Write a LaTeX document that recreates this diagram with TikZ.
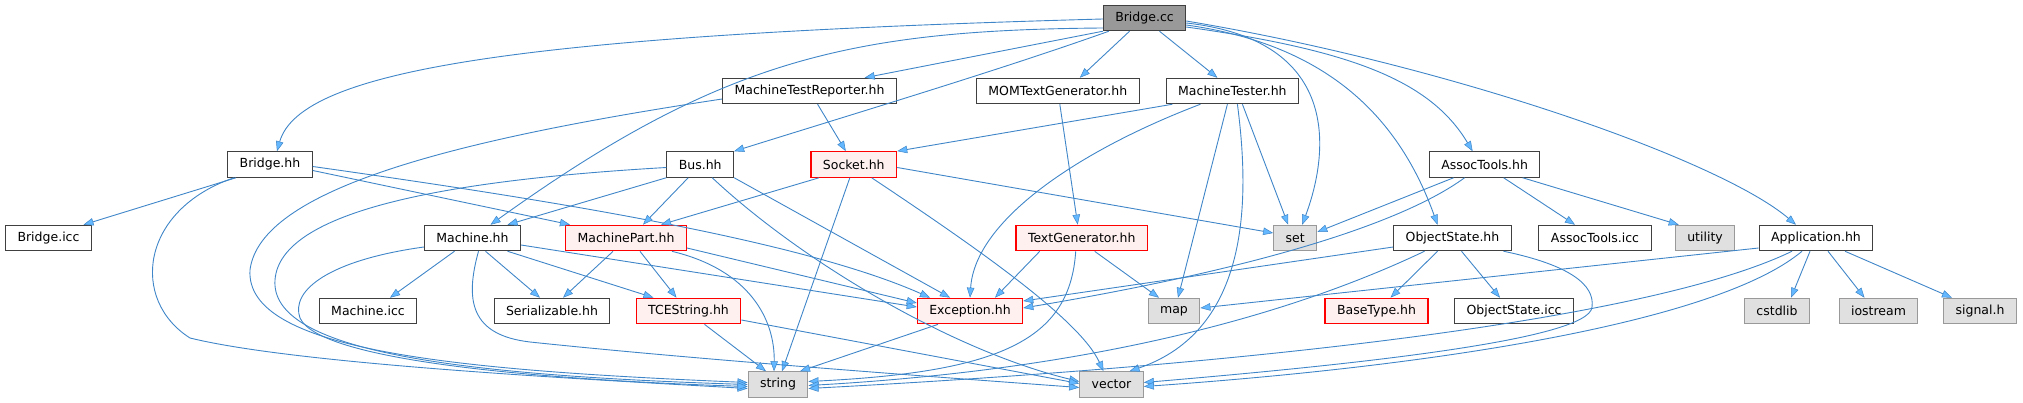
\documentclass[tikz,border=0pt]{standalone}
\usepackage{fontspec}
\setmainfont{DejaVu Sans}
\usetikzlibrary{arrows.meta}
\definecolor{edgeblue}{HTML}{63B8FF}
\definecolor{edgeline}{HTML}{3F86C8}
\definecolor{srcgray}{HTML}{999999}
\definecolor{sysfill}{HTML}{E0E0E0}
\definecolor{sysline}{HTML}{999999}
\definecolor{redfill}{HTML}{FFF0F0}
\definecolor{boxline}{HTML}{404040}

\begin{document}
\begin{tikzpicture}[
    x=1pt, y=-1pt,
    hdr/.style={rectangle, draw=boxline, fill=white, line width=1pt, minimum height=25.5pt, inner xsep=12pt, inner ysep=0pt, font=\fontsize{12.5}{15}\selectfont},
    srcf/.style={hdr, fill=srcgray},
    redhdr/.style={hdr, draw=red, fill=redfill, line width=1.2pt},
    syshdr/.style={hdr, draw=sysline, fill=sysfill},
    incl/.style={-{Triangle[length=10pt, width=7.5pt, fill=edgeblue, line width=0.5pt]}, draw=edgeline, line width=0.9pt}
]
\useasboundingbox (0,0) rectangle (2023,403);

\node[srcf] (cc) at (1144.5,18) {Bridge.cc};
\node[hdr] (mtr) at (809.6,91) {MachineTestReporter.hh};
\node[hdr] (momtg) at (1057.8,91) {MOMTextGenerator.hh};
\node[hdr] (mt) at (1232.4,91) {MachineTester.hh};
\node[hdr] (bh) at (270,164.5) {Bridge.hh};
\node[hdr] (bus) at (700.2,164.5) {Bus.hh};
\node[redhdr] (sock) at (853.8,164.5) {Socket.hh};
\node[hdr] (ath) at (1484.6,164.5) {AssocTools.hh};
\node[hdr] (bicc) at (48.5,238) {Bridge.icc};
\node[hdr] (mh) at (472.5,238) {Machine.hh};
\node[redhdr] (mp) at (626,238) {MachinePart.hh};
\node[redhdr] (tg) at (1081.7,238) {TextGenerator.hh};
\node[syshdr] (set) at (1295.2,238) {set};
\node[hdr] (osh) at (1452.5,238) {ObjectState.hh};
\node[hdr] (aticc) at (1595,238) {AssocTools.icc};
\node[syshdr] (util) at (1705,238) {utility};
\node[hdr] (app) at (1816,238) {Application.hh};
\node[hdr] (micc) at (368,311) {Machine.icc};
\node[hdr] (ser) at (552,311) {Serializable.hh};
\node[redhdr] (tce) at (688.5,311) {TCEString.hh};
\node[redhdr] (exc) at (970,311) {Exception.hh};
\node[syshdr] (map) at (1174,311) {map};
\node[redhdr] (bt) at (1376.5,311) {BaseType.hh};
\node[hdr] (osicc) at (1514,311) {ObjectState.icc};
\node[syshdr] (cstd) at (1777,311) {cstdlib};
\node[syshdr] (ios) at (1878.5,311) {iostream};
\node[syshdr] (sig) at (1980,311) {signal.h};
\node[syshdr] (str) at (778,384.5) {string};
\node[syshdr] (vec) at (1111.5,384.5) {vector};

\draw[incl] ([yshift=-1pt]cc.west) .. controls (520,35) and (300,70) .. ([xshift=7pt]bh.north);
\draw[incl] ([yshift=-10pt]cc.west) .. controls (850,30) and (720,60) .. ([xshift=18pt]mh.north);
\draw[incl] (cc.south west) -- ([xshift=55pt]mtr.north);
\draw[incl] ([xshift=6pt]cc.south west) .. controls (1000,70) and (850,115) .. (bus.north east);
\draw[incl] ([xshift=-15pt]cc.south) -- ([xshift=22pt]momtg.north);
\draw[incl] ([xshift=15pt]cc.south) -- ([xshift=-15pt]mt.north);
\draw[incl] ([yshift=-5pt]cc.east) .. controls (1340,40) and (1330,150) .. ([xshift=7pt]set.north);
\draw[incl] ([yshift=-7pt]cc.east) .. controls (1330,45) and (1400,120) .. ([xshift=-15pt]osh.north);
\draw[incl] ([yshift=-9pt]cc.east) .. controls (1350,50) and (1430,80) .. ([xshift=-12pt]ath.north);
\draw[incl] ([yshift=-3pt]cc.east) .. controls (1450,65) and (1720,160) .. ([xshift=-20pt]app.north);

\draw[incl] ([xshift=8pt]mtr.south) -- ([xshift=-8pt]sock.north);
\draw[incl] ([yshift=-8pt]mtr.west) .. controls (450,140) and (260,190) .. (250,270) .. controls (245,350) and (450,370) .. ([yshift=2pt]str.west);
\draw[incl] ([xshift=2pt]momtg.south) -- ([xshift=-4pt]tg.north);
\draw[incl] ([xshift=-60pt]mt.south) -- (sock.north east);
\draw[incl] ([xshift=-32pt]mt.south) .. controls (1080,150) and (975,220) .. (exc.north);
\draw[incl] ([xshift=-5pt]mt.south) -- ([xshift=4pt]map.north);
\draw[incl] ([xshift=5pt]mt.south) .. controls (1250,200) and (1250,330) .. ([xshift=18pt]vec.north);
\draw[incl] ([xshift=10pt]mt.south) -- ([xshift=-7pt]set.north);

\draw[incl] ([xshift=-34pt]bh.south) -- ([xshift=35pt]bicc.north);
\draw[incl] ([yshift=-6pt]bh.east) -- ([xshift=5pt]mp.north west);
\draw[incl] ([yshift=-2pt]bh.east) .. controls (550,200) and (800,240) .. ([xshift=-40pt]exc.north);
\draw[incl] ([xshift=-36pt]bh.south) .. controls (140,210) and (130,300) .. (190,338) .. controls (300,365) and (600,380) .. ([yshift=-4pt]str.west);

\draw[incl] (bus.south west) -- ([xshift=35pt]mh.north);
\draw[incl] ([xshift=-12pt]bus.south) -- ([xshift=17pt]mp.north);
\draw[incl] ([yshift=-3pt]bus.west) .. controls (450,180) and (280,210) .. (275,280) .. controls (270,350) and (450,375) .. (str.west);
\draw[incl] (bus.south east) -- ([xshift=-20pt]exc.north);
\draw[incl] ([xshift=12pt]bus.south) .. controls (800,260) and (950,350) .. ([yshift=3pt]vec.west);

\draw[incl] ([xshift=-35pt]sock.south) -- ([xshift=35pt]mp.north);
\draw[incl] ([xshift=-4pt]sock.south) -- ([xshift=4pt]str.north);
\draw[incl] ([xshift=18pt]sock.south) .. controls (980,250) and (1080,320) .. ([xshift=-8pt]vec.north);
\draw[incl] ([yshift=-3pt]sock.east) -- ([yshift=5pt]set.west);

\draw[incl] ([xshift=-31pt]ath.south) -- ([yshift=6pt]set.east);
\draw[incl] ([xshift=-20pt]ath.south) .. controls (1400,225) and (1250,270) .. ([yshift=3pt]exc.east);
\draw[incl] ([xshift=19pt]ath.south) -- ([xshift=-20pt]aticc.north);
\draw[incl] ([xshift=38pt]ath.south) -- ([xshift=4pt]util.north west);

\draw[incl] ([xshift=-18pt]mh.south) -- ([xshift=22pt]micc.north);
\draw[incl] ([xshift=13pt]mh.south) -- ([xshift=-12pt]ser.north);
\draw[incl] ([xshift=35pt]mh.south) -- ([xshift=-35pt]tce.north);
\draw[incl] ([yshift=-7pt]mh.east) -- ([yshift=4pt]exc.west);
\draw[incl] ([yshift=-9pt]mh.west) .. controls (330,260) and (290,290) .. (300,318) .. controls (320,362) and (550,380) .. ([yshift=-2pt]str.west);
\draw[incl] ([xshift=6pt]mh.south) .. controls (465,300) and (470,335) .. (530,342) .. controls (700,360) and (950,378) .. ([yshift=-3pt]vec.west);

\draw[incl] ([xshift=-13pt]mp.south) -- ([xshift=11pt]ser.north);
\draw[incl] ([xshift=14pt]mp.south) -- ([xshift=-12pt]tce.north);
\draw[incl] ([xshift=46pt]mp.south) .. controls (750,270) and (775,320) .. ([xshift=-4pt]str.north);
\draw[incl] ([yshift=-10pt]mp.east) -- ([yshift=8pt]exc.west);

\draw[incl] ([xshift=-42pt]tg.south) -- ([xshift=25pt]exc.north);
\draw[incl] ([xshift=13pt]tg.south) -- ([xshift=-15pt]map.north);
\draw[incl] ([xshift=-6pt]tg.south) .. controls (1070,340) and (1000,372) .. ([yshift=3pt]str.east);

\draw[incl] ([xshift=16pt]tce.south) -- ([xshift=-12pt]str.north);
\draw[incl] ([yshift=-9pt]tce.east) -- ([yshift=1pt]vec.west);
\draw[incl] ([xshift=-32pt]exc.south) -- ([xshift=22pt]str.north);

\draw[incl] ([yshift=-9pt]osh.west) -- ([yshift=10pt]exc.east);
\draw[incl] ([xshift=-15pt]osh.south) -- ([xshift=14pt]bt.north);
\draw[incl] ([xshift=9pt]osh.south) -- ([xshift=-14pt]osicc.north);
\draw[incl] ([xshift=-28pt]osh.south) .. controls (1280,320) and (1080,370) .. ([yshift=-1pt]str.east);
\draw[incl] ([xshift=51pt]osh.south) .. controls (1570,265) and (1595,285) .. (1592,307) .. controls (1590,340) and (1350,365) .. ([yshift=2pt]vec.east);

\draw[incl] ([yshift=-10pt]app.west) -- ([yshift=3pt]map.east);
\draw[incl] ([xshift=-24pt]app.south) .. controls (1650,320) and (1250,365) .. ([yshift=-4pt]str.east);
\draw[incl] ([xshift=-14pt]app.south) .. controls (1720,320) and (1450,365) .. ([yshift=-2pt]vec.east);
\draw[incl] ([xshift=-6pt]app.south) -- ([xshift=14pt]cstd.north);
\draw[incl] ([xshift=12pt]app.south) -- ([xshift=-14pt]ios.north);
\draw[incl] ([xshift=29pt]app.south) -- ([xshift=-28pt]sig.north);

\end{tikzpicture}
\end{document}
